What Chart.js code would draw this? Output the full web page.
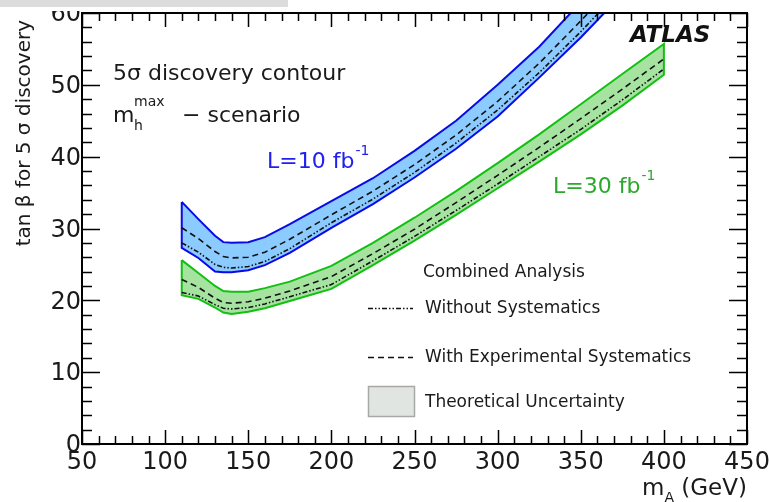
<!DOCTYPE html>
<html>
<head>
<meta charset="utf-8">
<script src="https://cdn.jsdelivr.net/npm/chart.js@4.4.1/dist/chart.umd.min.js"></script>
<style>
  html, body { margin: 0; padding: 0; background: #fff; }
  #wrap { width: 769px; height: 502px; position: relative; }
</style>
</head>
<body>
<div id="wrap"><canvas id="contour"></canvas></div>
<script>
// ---- values ----
const massBlue = [110, 120, 130, 135, 140, 150, 160, 175, 200, 225, 250, 275, 300, 325, 350, 375];
const blueUpper   = [33.7, 31.3, 29.0, 28.1, 28.0, 28.1, 28.8, 30.6, 33.8, 37.0, 40.8, 45.0, 50.0, 55.3, 61.5, 67.5];
const blueLower   = [27.3, 25.9, 24.0, 23.9, 23.9, 24.2, 24.9, 26.6, 30.1, 33.4, 37.1, 41.1, 45.6, 51.0, 56.6, 62.6];
const blueWithSys = [30.1, 28.6, 26.8, 26.1, 25.9, 26.0, 26.7, 28.5, 31.9, 35.2, 38.9, 43.0, 47.7, 53.0, 58.9, 65.0];
const blueNoSys   = [28.0, 26.7, 25.0, 24.6, 24.5, 24.7, 25.4, 27.2, 30.8, 34.1, 37.8, 41.9, 46.5, 51.7, 57.4, 63.5];

const massGreen = [110, 120, 130, 135, 140, 150, 160, 175, 200, 225, 250, 275, 300, 325, 350, 375, 400];
const greenUpper   = [25.6, 23.8, 22.0, 21.3, 21.2, 21.2, 21.7, 22.6, 24.8, 28.0, 31.5, 35.2, 39.1, 43.1, 47.3, 51.5, 55.7];
const greenLower   = [20.7, 20.2, 19.0, 18.3, 18.1, 18.4, 18.9, 19.9, 21.6, 24.9, 28.3, 31.9, 35.6, 39.3, 43.1, 47.1, 51.4];
const greenWithSys = [22.9, 21.8, 20.3, 19.7, 19.6, 19.8, 20.3, 21.3, 23.3, 26.5, 29.9, 33.6, 37.4, 41.3, 45.3, 49.4, 53.6];
const greenNoSys   = [21.1, 20.6, 19.4, 18.9, 18.8, 19.0, 19.5, 20.5, 22.2, 25.5, 28.9, 32.5, 36.2, 40.0, 43.8, 47.9, 52.2];

const xTickLabels = [50, 100, 150, 200, 250, 300, 350, 400, 450];
const yTickLabels = [0, 10, 20, 30, 40, 50, 60];

// ---- styles ----
const BLUE_LINE = '#0a0ae6';
const BLUE_FILL = '#8ccbff';
const GREEN_LINE = '#12c012';
const GREEN_FILL = '#a6e2a0';
const DASH_WITH = [6, 4];
const DASH_WITHOUT = [5, 2, 1.5, 2, 1.5, 2];

Chart.defaults.font.family = '"DejaVu Sans", sans-serif';
Chart.defaults.color = '#1a1a1a';

const pts = (xs, ys) => xs.map((x, i) => ({ x, y: ys[i] }));
// closed outline of a band: upper edge left->right, lower edge back
const outline = (xs, up, lo) => [...pts(xs, up), ...pts(xs, lo).reverse(), { x: xs[0], y: up[0] }];

function curve(data, dash) {
  return {
    data, showLine: true, pointRadius: 0, borderColor: '#111', borderWidth: 1.6,
    borderDash: dash, fill: false, tension: 0, clip: 0
  };
}
function band(data, line, fillColor) {
  return {
    data, showLine: true, pointRadius: 0, borderColor: line, borderWidth: 2,
    backgroundColor: fillColor, fill: 'shape', tension: 0, clip: 0
  };
}

// frame, inward ticks, text labels and legend
const decorations = {
  id: 'decorations',
  afterDraw(chart) {
    const { ctx, chartArea: a, scales: { x, y } } = chart;
    ctx.save();

    // ticks on all four sides, pointing inwards
    ctx.strokeStyle = '#000';
    ctx.lineWidth = 1.5;
    ctx.beginPath();
    for (let v = x.min; v <= x.max + 1e-6; v += 10) {
      const px = Math.round(x.getPixelForValue(v)) + 0.5;
      const len = v % 50 === 0 ? 14 : 8;
      ctx.moveTo(px, a.bottom); ctx.lineTo(px, a.bottom - len);
      ctx.moveTo(px, a.top); ctx.lineTo(px, a.top + len);
    }
    for (let v = y.min; v <= y.max + 1e-6; v += 2) {
      const py = Math.round(y.getPixelForValue(v)) + 0.5;
      const len = v % 10 === 0 ? 18 : 10;
      ctx.moveTo(a.left, py); ctx.lineTo(a.left + len, py);
      ctx.moveTo(a.right, py); ctx.lineTo(a.right - len, py);
    }
    ctx.stroke();
    ctx.lineWidth = 2;
    ctx.strokeRect(a.left, a.top, a.right - a.left, a.bottom - a.top);

    const text = (s, tx, ty, font, color) => {
      ctx.font = font;
      ctx.fillStyle = color || '#1a1a1a';
      ctx.fillText(s, tx, ty);
      return tx + ctx.measureText(s).width;
    };
    ctx.textBaseline = 'alphabetic';
    ctx.textAlign = 'left';
    const F = '"DejaVu Sans", sans-serif';

    // annotation block
    text('5σ discovery contour', 113, 80, '22px ' + F);
    text('m', 113, 122, '22px ' + F);
    text('max', 134, 106, '14px ' + F);
    text('h', 134, 130, '14px ' + F);
    text('− scenario', 182, 122, '22px ' + F);

    let e = text('L=10 fb', 267, 168, '22px ' + F, '#2020f0');
    text('-1', e + 1, 155, '14px ' + F, '#2020f0');
    e = text('L=30 fb', 553, 193, '22px ' + F, '#2ca82c');
    text('-1', e + 1, 180, '14px ' + F, '#2ca82c');

    text('ATLAS', 630, 42, 'italic bold 23px ' + F, '#111');

    // legend
    text('Combined Analysis', 423, 277, '17px ' + F);
    ctx.strokeStyle = '#111';
    ctx.lineWidth = 1.5;
    ctx.setLineDash(DASH_WITHOUT);
    ctx.beginPath(); ctx.moveTo(368, 308.5); ctx.lineTo(413, 308.5); ctx.stroke();
    text('Without Systematics', 425, 313, '17px ' + F);
    ctx.setLineDash(DASH_WITH);
    ctx.beginPath(); ctx.moveTo(368, 357.5); ctx.lineTo(413, 357.5); ctx.stroke();
    ctx.setLineDash([]);
    text('With Experimental Systematics', 425, 362, '17px ' + F);
    ctx.fillStyle = '#e1e5e1';
    ctx.fillRect(368, 386, 47, 31);
    ctx.strokeStyle = '#a8a8a8';
    ctx.strokeRect(368.5, 386.5, 46, 30);
    text('Theoretical Uncertainty', 425, 407, '17px ' + F);

    // axis titles
    e = text('m', 642, 495, '23px ' + F);
    e = text('A', e, 502, '14px ' + F);
    text(' (GeV)', e, 495, '23px ' + F);

    ctx.save();
    ctx.translate(30, 20);
    ctx.rotate(-Math.PI / 2);
    ctx.textAlign = 'right';
    text('tan β for 5 σ discovery', 0, 0, '20px ' + F);
    ctx.restore();

    // scanned-page remnants at the top edge
    ctx.fillStyle = '#fff';
    ctx.fillRect(40, 7, 42, 4);
    ctx.fillStyle = '#dcdcdc';
    ctx.fillRect(0, 0, 288, 7);
    ctx.restore();
  }
};

new Chart(document.getElementById('contour'), {
  type: 'scatter',
  data: {
    datasets: [
      curve(pts(massBlue, blueWithSys), DASH_WITH),
      curve(pts(massBlue, blueNoSys), DASH_WITHOUT),
      curve(pts(massGreen, greenWithSys), DASH_WITH),
      curve(pts(massGreen, greenNoSys), DASH_WITHOUT),
      band(outline(massBlue, blueUpper, blueLower), BLUE_LINE, BLUE_FILL),
      band(outline(massGreen, greenUpper, greenLower), GREEN_LINE, GREEN_FILL)
    ]
  },
  options: {
    responsive: true,
    maintainAspectRatio: false,
    animation: false,
    layout: { padding: { top: 13, right: 22, left: 0, bottom: 0 } },
    plugins: {
      legend: { display: false },
      tooltip: { enabled: false }
    },
    scales: {
      x: {
        type: 'linear',
        min: 50,
        max: 450,
        grid: { display: false, drawTicks: false },
        border: { display: false },
        afterBuildTicks: s => { s.ticks = xTickLabels.map(v => ({ value: v })); },
        afterFit: s => { s.height = 58; s.paddingLeft = 0; s.paddingRight = 0; },
        ticks: { padding: 4, maxRotation: 0, font: { size: 24 } }
      },
      y: {
        type: 'linear',
        min: 0,
        max: 60,
        grid: { display: false, drawTicks: false },
        border: { display: false },
        afterBuildTicks: s => { s.ticks = yTickLabels.map(v => ({ value: v })); },
        afterFit: s => { s.width = 82; s.paddingTop = 0; s.paddingBottom = 0; },
        ticks: { padding: 1, labelOffset: 2, font: { size: 24 } }
      }
    }
  },
  plugins: [decorations]
});
</script>
</body>
</html>
